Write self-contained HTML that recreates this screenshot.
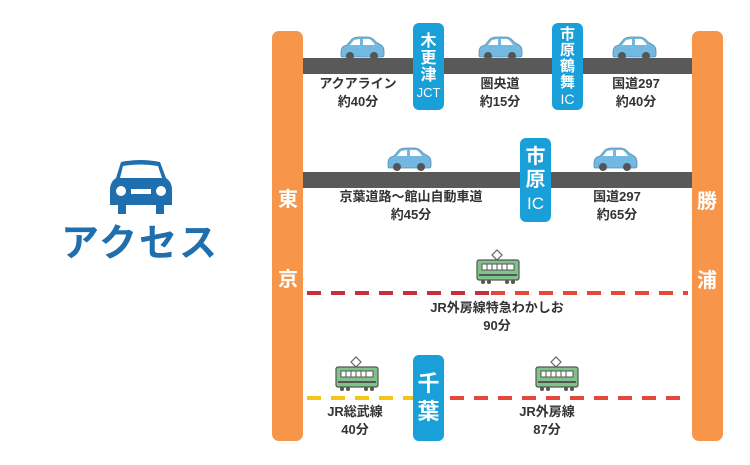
<!DOCTYPE html>
<html><head><meta charset="utf-8"><style>
body{margin:0;width:750px;height:465px;background:#fff;position:relative;overflow:hidden;font-family:"Liberation Sans","Noto Sans CJK JP",sans-serif}
.a{position:absolute}
.or{background:#f7964a;border-radius:7px}
.bl{background:#1aa0d8;border-radius:6px;color:#fff;font-weight:bold;text-align:center;display:flex;flex-direction:column;justify-content:center;align-items:center}
.gr{background:#595959;height:16px}
.lb{font-size:13px;color:#333;text-align:center;line-height:18px;font-weight:bold;width:140px}
.ot{color:#fff;font-weight:bold;font-size:20px;width:30px;text-align:center}
</style></head><body>
<svg class="a" style="left:0;top:0" width="750" height="465">
<defs>
<g id="car"><path d="M3 16 Q3 10 9 9 L14 3 Q16 1 22 1 L30 1 Q34 1 38 6 L43 9 Q46 11 46 15 L46 19 Q46 21 44 21 L4 21 Q3 21 3 19Z" fill="#72b8e0" stroke="#5a8fb0" stroke-width="0.8"/><path d="M16 4 L22 3 L22 9 L12 9Z M25 3 L31 3 Q34 4 37 9 L25 9Z" fill="#fff"/><circle cx="12" cy="20" r="4" fill="#555"/><circle cx="36" cy="20" r="4" fill="#555"/></g>
<g id="tr"><path d="M16 6 L21 1 L26 6 L21 11Z" fill="none" stroke="#666" stroke-width="1.2"/><rect x="1" y="11" width="42" height="20" rx="2" fill="#7dc38a" stroke="#555" stroke-width="1.2"/><rect x="6" y="15" width="32" height="6" fill="#fff" stroke="#555" stroke-width="1"/><path d="M11 15v6M16 15v6M21 15v6M26 15v6M31 15v6" stroke="#555" stroke-width="1"/><rect x="3" y="25" width="38" height="2" fill="#555"/><circle cx="7" cy="33" r="2" fill="#555"/><circle cx="13" cy="33" r="2" fill="#555"/><circle cx="31" cy="33" r="2" fill="#555"/><circle cx="37" cy="33" r="2" fill="#555"/></g>
</defs>
<use href="#car" x="338" y="36"/><use href="#car" x="476" y="36"/><use href="#car" x="610" y="36"/>
<use href="#car" x="385" y="147"/><use href="#car" x="591" y="147"/>
<use href="#tr" x="476" y="249"/><use href="#tr" x="335" y="356"/><use href="#tr" x="535" y="356"/>
<line x1="307" y1="293" x2="490" y2="293" stroke="#c8303a" stroke-width="4" stroke-dasharray="14 10"/>
<line x1="491" y1="293" x2="688" y2="293" stroke="#e5483a" stroke-width="4" stroke-dasharray="14 10"/>
<line x1="307" y1="398" x2="413" y2="398" stroke="#f5c518" stroke-width="4" stroke-dasharray="14 10"/>
<line x1="450" y1="398" x2="688" y2="398" stroke="#e5483a" stroke-width="4" stroke-dasharray="14 10"/>
<g fill="#1f6fae"><path d="M121 162 Q140 158 160 162 L166 178 Q172 182 172 190 L172 205 L164 205 L164 214 L156 214 L156 205 L126 205 L126 214 L118 214 L118 205 L110 205 L110 190 Q110 182 116 178Z"/></g>
<path d="M123 166 Q140 163 158 166 L162 178 L120 178Z" fill="#fff"/>
<circle cx="121" cy="191" r="5" fill="#fff"/><circle cx="161" cy="191" r="5" fill="#fff"/><rect x="131" y="189" width="20" height="5" fill="#fff"/>
</svg>
<div class="a" style="left:55px;top:222px;width:170px;text-align:center;color:#1f6fae;font-size:38px;font-weight:bold;letter-spacing:2px;line-height:44px">アクセス</div>
<div class="a gr" style="left:303px;top:58px;width:389px"></div>
<div class="a gr" style="left:303px;top:172px;width:389px"></div>
<div class="a or" style="left:272px;top:31px;width:31px;height:410px"></div>
<div class="a or" style="left:692px;top:31px;width:31px;height:410px"></div>
<div class="a ot" style="left:273px;top:183px">東</div>
<div class="a ot" style="left:273px;top:263px">京</div>
<div class="a ot" style="left:692px;top:185px">勝</div>
<div class="a ot" style="left:692px;top:264px">浦</div>
<div class="a bl" style="left:413px;top:23px;width:31px;height:87px;font-size:16px;line-height:17px">木<br>更<br>津<span style="font-size:13px;font-weight:normal">JCT</span></div>
<div class="a bl" style="left:552px;top:23px;width:31px;height:87px;font-size:15px;line-height:16px">市<br>原<br>鶴<br>舞<span style="font-size:14px;font-weight:normal">IC</span></div>
<div class="a bl" style="left:520px;top:138px;width:31px;height:84px;font-size:20px;line-height:23px">市<br>原<span style="font-size:17px;font-weight:normal">IC</span></div>
<div class="a bl" style="left:413px;top:355px;width:31px;height:86px;font-size:22px;line-height:28px">千<br>葉</div>
<div class="a lb" style="left:288px;top:75px">アクアライン<br>約40分</div>
<div class="a lb" style="left:430px;top:75px">圏央道<br>約15分</div>
<div class="a lb" style="left:566px;top:75px">国道297<br>約40分</div>
<div class="a lb" style="left:321px;top:188px;width:180px">京葉道路～館山自動車道<br>約45分</div>
<div class="a lb" style="left:547px;top:188px">国道297<br>約65分</div>
<div class="a lb" style="left:417px;top:299px;width:160px">JR外房線特急わかしお<br>90分</div>
<div class="a lb" style="left:285px;top:403px">JR総武線<br>40分</div>
<div class="a lb" style="left:477px;top:403px">JR外房線<br>87分</div>
</body></html>
